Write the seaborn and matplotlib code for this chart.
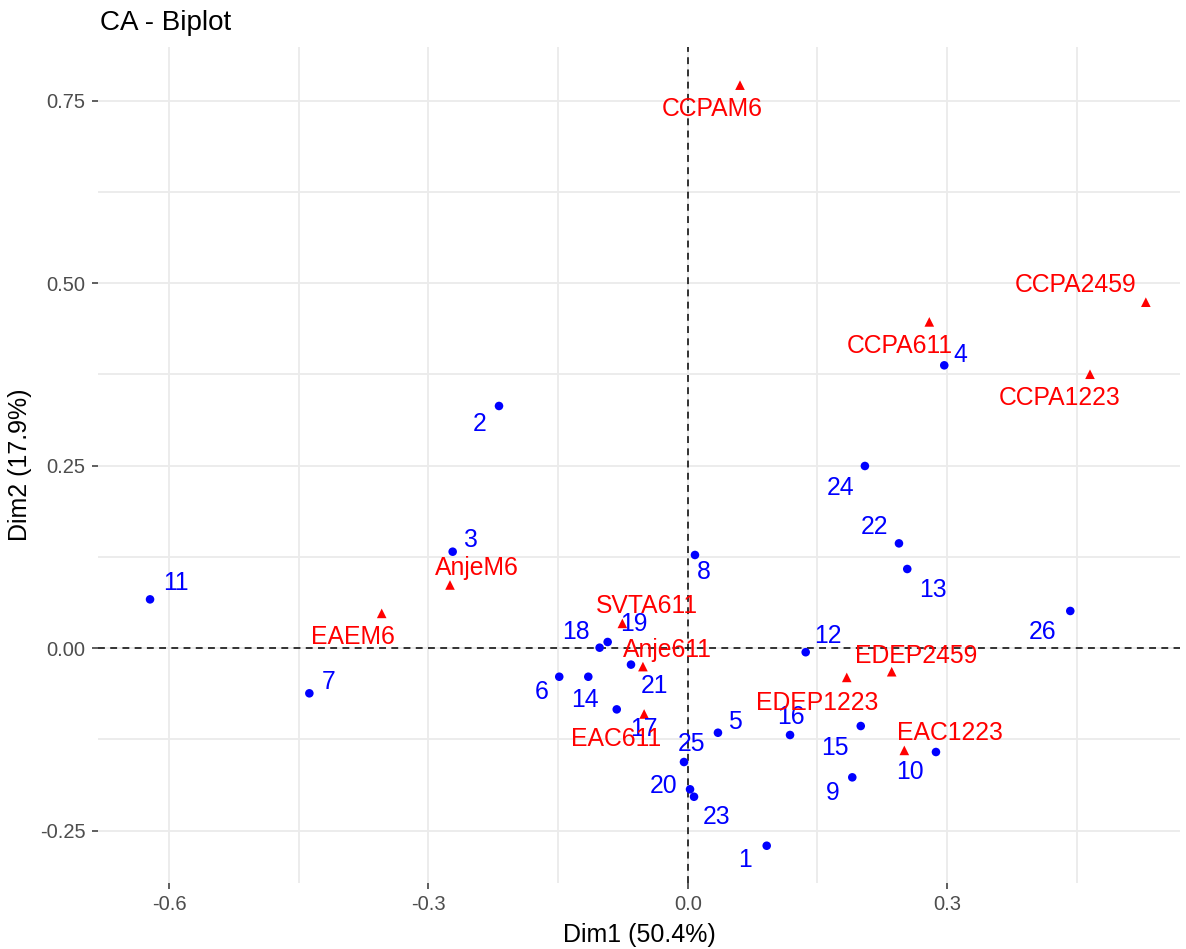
import numpy as np
import pandas as pd
import matplotlib
matplotlib.use("Agg")
import matplotlib.pyplot as plt
import seaborn as sns

# ---- data (row points: blue, column points: red) ----
row_names = [str(i) for i in range(1, 27)]
row_dim1 = [0.0914, -0.2183, -0.2719, 0.2968, 0.0350, -0.1486, -0.4377, 0.0084,
            0.1904, 0.2872, -0.6220, 0.1365, 0.2540, -0.1150, 0.2002, 0.1184,
            -0.0821, -0.1019, -0.0926, 0.0027, -0.0656, 0.2444, 0.0073, 0.2050,
            -0.0043, 0.4426]
row_dim2 = [-0.2706, 0.3318, 0.1322, 0.3875, -0.1158, -0.0391, -0.0618, 0.1277,
            -0.1769, -0.1422, 0.0669, -0.0055, 0.1085, -0.0391, -0.1066, -0.1189,
            -0.0838, 0.0007, 0.0085, -0.1933, -0.0225, 0.1436, -0.2035, 0.2496,
            -0.1559, 0.0510]

col_names = ["CCPAM6", "CCPA2459", "CCPA611", "CCPA1223", "AnjeM6", "EAEM6",
             "SVTA611", "Anje611", "EAC611", "EDEP1223", "EDEP2459", "EAC1223"]
col_dim1 = [0.0605, 0.5300, 0.2795, 0.4654, -0.2750, -0.3540, -0.0756, -0.0518,
            -0.0504, 0.1840, 0.2360, 0.2506]
col_dim2 = [0.7713, 0.4740, 0.4470, 0.3753, 0.0866, 0.0477, 0.0340, -0.0252,
            -0.0901, -0.0400, -0.0322, -0.1400]

x_ticks = [-0.6, -0.3, 0.0, 0.3]
x_tick_labels = ["-0.6", "-0.3", "0.0", "0.3"]
y_ticks = [-0.25, 0.0, 0.25, 0.50, 0.75]
y_tick_labels = ["-0.25", "0.00", "0.25", "0.50", "0.75"]

# ---- label offsets (layout, in pixels: dx right, dy down) ----
row_offsets = {
    "1": (-22, 14), "2": (-19, 18), "3": (17, -12), "4": (16, -10), "5": (17, -11),
    "6": (-18, 15), "7": (19, -11), "8": (9, 17), "9": (-20, 16), "10": (-26, 20),
    "11": (26, -16), "12": (22, -16), "13": (26, 21), "14": (-3, 23), "15": (-26, 22),
    "16": (1, -18), "17": (27, 20), "18": (-24, -16), "19": (26, -18), "20": (-26, -3),
    "21": (24, 21), "22": (-24, -16), "23": (23, 20), "24": (-24, 22), "25": (8, -18),
    "26": (-28, 21),
}
col_offsets = {
    "CCPAM6": (-28, 24), "CCPA2459": (-70, -17), "CCPA611": (-29, 24),
    "CCPA1223": (-30, 24), "AnjeM6": (27, -17), "EAEM6": (-29, 24),
    "SVTA611": (25, -17), "Anje611": (25, -17), "EAC611": (-28, 25),
    "EDEP1223": (-30, 26), "EDEP2459": (24, -16), "EAC1223": (46, -17),
}

rows = pd.DataFrame({"name": row_names, "Dim1": row_dim1, "Dim2": row_dim2})
cols = pd.DataFrame({"name": col_names, "Dim1": col_dim1, "Dim2": col_dim2})

sns.set_theme(style="white")
plt.rcParams["font.family"] = ["Liberation Sans", "DejaVu Sans"]

W, H, DPI = 1186, 949, 100
fig = plt.figure(figsize=(W / DPI, H / DPI), dpi=DPI)
left_px, right_px, top_px, bottom_px = 98, 1180, 47, 883
ax = fig.add_axes([left_px / W, 1 - bottom_px / H,
                   (right_px - left_px) / W, (bottom_px - top_px) / H])

# axis limits (from pixel calibration)
x0_px, sx = 687.7, 864.4
y0_px, sy = 648.2, 730.0
ax.set_xlim((left_px - x0_px) / sx, (right_px - x0_px) / sx)
ax.set_ylim((y0_px - bottom_px) / sy, (y0_px - top_px) / sy)

# grid: major + minor
grid_col = "#EBEBEB"
for xv in [-0.6, -0.45, -0.3, -0.15, 0.0, 0.15, 0.3, 0.45]:
    ax.axvline(xv, color=grid_col, lw=1.3, zorder=0)
for yv in [-0.25, -0.125, 0.0, 0.125, 0.25, 0.375, 0.5, 0.625, 0.75]:
    ax.axhline(yv, color=grid_col, lw=1.3, zorder=0)

# reference dashed lines
ax.axhline(0, color="black", lw=1.1, ls=(0, (4.5, 3.5)), zorder=1)
ax.axvline(0, color="black", lw=1.1, ls=(0, (4.5, 3.5)), zorder=1)

sns.scatterplot(data=rows, x="Dim1", y="Dim2", color="#0000FF", marker="o",
                s=38, edgecolor="none", ax=ax, zorder=3, legend=False)
sns.scatterplot(data=cols, x="Dim1", y="Dim2", color="#FF0000", marker="^",
                s=48, edgecolor="none", ax=ax, zorder=3, legend=False)

lab_fs = 17.8
for _, r in rows.iterrows():
    dx, dy = row_offsets[r["name"]]
    ax.annotate(r["name"], (r["Dim1"], r["Dim2"]), xytext=(dx, -dy),
                textcoords="offset pixels", ha="center", va="center",
                color="#0000FF", fontsize=lab_fs, zorder=4)
for _, r in cols.iterrows():
    dx, dy = col_offsets[r["name"]]
    ax.annotate(r["name"], (r["Dim1"], r["Dim2"]), xytext=(dx, -dy),
                textcoords="offset pixels", ha="center", va="center",
                color="#FF0000", fontsize=lab_fs, zorder=4)

ax.set_xticks(x_ticks)
ax.set_xticklabels(x_tick_labels)
ax.set_yticks(y_ticks)
ax.set_yticklabels(y_tick_labels)
ax.tick_params(axis="both", which="major", length=4, width=1.1, color="#333333",
               labelsize=14.5, labelcolor="#4D4D4D", pad=5, direction="out",
               bottom=True, left=True)
for sp in ax.spines.values():
    sp.set_visible(False)
ax.grid(False)

ax.set_xlabel("Dim1 (50.4%)", fontsize=18, color="black", labelpad=6)
ax.set_ylabel("Dim2 (17.9%)", fontsize=18, color="black", labelpad=6)
fig.text(100 / W, 1 - 23 / H, "CA - Biplot", fontsize=20, color="black",
         ha="left", va="center")

fig.savefig("out.png", dpi=DPI, facecolor="white")
